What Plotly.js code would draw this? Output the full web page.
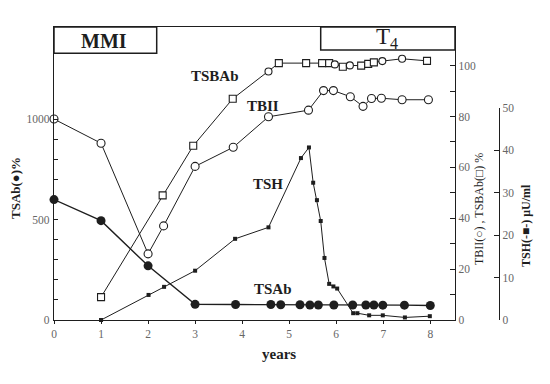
<!DOCTYPE html>
<html>
<head>
<meta charset="utf-8">
<script src="https://cdn.plot.ly/plotly-3.0.1.min.js"></script>
<style>html,body{margin:0;padding:0;background:#fff;}#chart{width:550px;height:384px;}</style>
</head>
<body>
<div id="chart"></div>
<script>
// ---- data ----
const tsabYears  = [0, 1, 2, 3, 3.86, 4.61, 4.82, 5.23, 5.44, 5.62, 5.95, 6.35, 6.63, 6.80, 6.99, 7.45, 8.0];
const tsabValues = [600, 495, 270, 78, 77, 77, 76, 76, 75, 75, 75, 75, 75, 75, 74, 74, 72];

const tbiiYears  = [0, 1, 2, 2.33, 3.0, 3.81, 4.56, 5.41, 5.73, 5.94, 6.30, 6.57, 6.75, 6.96, 7.40, 7.96];
const tbiiValues = [79, 69.5, 26, 37, 60.4, 67.9, 79.9, 82.5, 90.2, 90.2, 87.8, 84.0, 87.1, 87.2, 86.6, 86.6];

const tsbabYears  = [1.0, 2.31, 2.96, 3.80, 4.56, 4.78, 5.36, 5.70, 5.85, 5.97, 6.14, 6.29, 6.53, 6.68, 6.80, 6.98, 7.40, 7.93];
const tsbabValues = [9, 49, 68.5, 87, 97.7, 101, 101, 101, 101, 100.5, 99.6, 100.1, 100, 100.7, 101.3, 101.8, 102.7, 101.9];

const tshYears  = [1, 2.01, 2.34, 3.0, 3.85, 4.56, 5.25, 5.42, 5.51, 5.59, 5.67, 5.75, 5.85, 5.94, 6.02, 6.36, 6.45, 6.70, 6.99, 7.46, 7.99];
const tshValues = [0, 5.9, 7.8, 11.6, 19.1, 21.8, 38.1, 40.6, 32.3, 28.2, 23.3, 14.6, 8.5, 7.9, 7.4, 1.6, 1.6, 1.1, 1.1, 0.6, 0.9];

const xTicks      = [0, 1, 2, 3, 4, 5, 6, 7, 8];
const leftTicks   = [0, 500, 1000];
const rightTicks  = [0, 20, 40, 60, 80, 100];
const tshTicks    = [0, 10, 20, 30, 40, 50];

// ---- styles ----
const INK = '#1e1e1e';
const SERIF = 'Liberation Serif, Times New Roman, serif';
const tsbabSymbols = ['square','square','square','square','circle','square','square','square','square','circle','square','circle','square','square','square','circle','circle','square'];

const traces = [
  { x: tshYears, y: tshValues, xaxis: 'x', yaxis: 'y3', mode: 'lines+markers', cliponaxis: false,
    line: { color: INK, width: 1 }, marker: { symbol: 'square', size: 4, color: INK }, name: 'TSH' },
  { x: tbiiYears, y: tbiiValues, xaxis: 'x', yaxis: 'y2', mode: 'lines+markers', cliponaxis: false,
    line: { color: INK, width: 1 }, marker: { symbol: 'circle', size: 8, color: '#fff', line: { color: INK, width: 1.1 } }, name: 'TBII' },
  { x: tsbabYears, y: tsbabValues, xaxis: 'x', yaxis: 'y2', mode: 'lines+markers', cliponaxis: false,
    line: { color: INK, width: 1 }, marker: { symbol: tsbabSymbols, size: 7, color: '#fff', line: { color: INK, width: 1.1 } }, name: 'TSBAb' },
  { x: tsabYears, y: tsabValues, xaxis: 'x', yaxis: 'y', mode: 'lines+markers', cliponaxis: false,
    line: { color: INK, width: 1.4 }, marker: { symbol: 'circle', size: 9, color: INK }, name: 'TSAb' }
];

const tickFont = { family: SERIF, size: 11.5, color: '#666' };
const xDomEnd = 401 / 456;
const px = v => (v - 54) / 456;
const py = v => (320 - v) / 293;
function label(text, x, y, size, extra) {
  return Object.assign({ text: text, xref: 'paper', yref: 'paper', x: px(x), y: py(y),
    xanchor: 'center', yanchor: 'middle', showarrow: false,
    font: { family: SERIF, size: size, color: INK } }, extra || {});
}

const layout = {
  width: 550, height: 384,
  margin: { l: 54, r: 40, t: 27, b: 64 },
  paper_bgcolor: '#fff', plot_bgcolor: 'rgba(0,0,0,0)',
  showlegend: false,
  xaxis: { domain: [0, xDomEnd], range: [0, 8.525], showgrid: false, zeroline: false,
    showline: true, mirror: true, linecolor: INK, linewidth: 1.2,
    ticks: 'outside', ticklen: 3, tickcolor: INK, tickvals: xTicks, tickfont: tickFont },
  yaxis: { domain: [0, 1], range: [0, 1460], showgrid: false, zeroline: false,
    showline: true, linecolor: INK, linewidth: 1.2,
    ticks: 'inside', ticklen: 4, tickcolor: INK, tickvals: leftTicks, tickfont: tickFont, ticklabelstandoff: 1,
    minor: { tickvals: [100, 200, 300, 400, 600, 700, 800, 900], ticks: 'inside', ticklen: 4, tickcolor: INK } },
  yaxis2: { overlaying: 'y', anchor: 'x', side: 'right', range: [0, 115.2], showgrid: false, zeroline: false,
    showline: true, linecolor: INK, linewidth: 1.2,
    ticks: 'inside', ticklen: 5, tickcolor: INK, tickvals: rightTicks, tickfont: tickFont,
    minor: { tickvals: [10, 30, 50, 70, 90], ticks: 'inside', ticklen: 5, tickcolor: INK } },
  yaxis3: { domain: [0, 212.5 / 293], anchor: 'free', position: (499 - 54) / 456, side: 'right',
    range: [0, 50], showgrid: false, zeroline: false,
    showline: true, linecolor: INK, linewidth: 1.2,
    ticks: 'inside', ticklen: 5, tickcolor: INK, tickvals: tshTicks, tickfont: tickFont },
  shapes: [
    { type: 'rect', xref: 'paper', yref: 'paper', x0: 0, x1: px(156.7), y0: py(53.3), y1: 1,
      line: { color: INK, width: 1.5 }, fillcolor: '#fff' },
    { type: 'rect', xref: 'paper', yref: 'paper', x0: px(320.7), x1: xDomEnd, y0: py(50), y1: 1,
      line: { color: INK, width: 1.5 }, fillcolor: '#fff' }
  ],
  annotations: [
    label('<b>MMI</b>', 104.2, 40.5, 20),
    label('T<sub>4</sub>', 387, 38, 23),
    label('<b>TSBAb</b>', 215, 76, 15),
    label('<b>TBII</b>', 263, 106, 15),
    label('<b>TSH</b>', 267.5, 184, 15),
    label('<b>TSAb</b>', 272.5, 289, 15),
    label('<b>years</b>', 279, 354, 15),
    label('<b>TSAb(●)%</b>', 15, 188, 13, { textangle: -90 }),
    label('TBII(○) , TSBAb(□) %', 479, 209, 12, { textangle: -90 }),
    label('<b>TSH(-■-) μU/ml</b>', 526, 226, 12, { textangle: -90 })
  ]
};

Plotly.newPlot('chart', traces, layout, { displayModeBar: false, staticPlot: true });
</script>
</body>
</html>
